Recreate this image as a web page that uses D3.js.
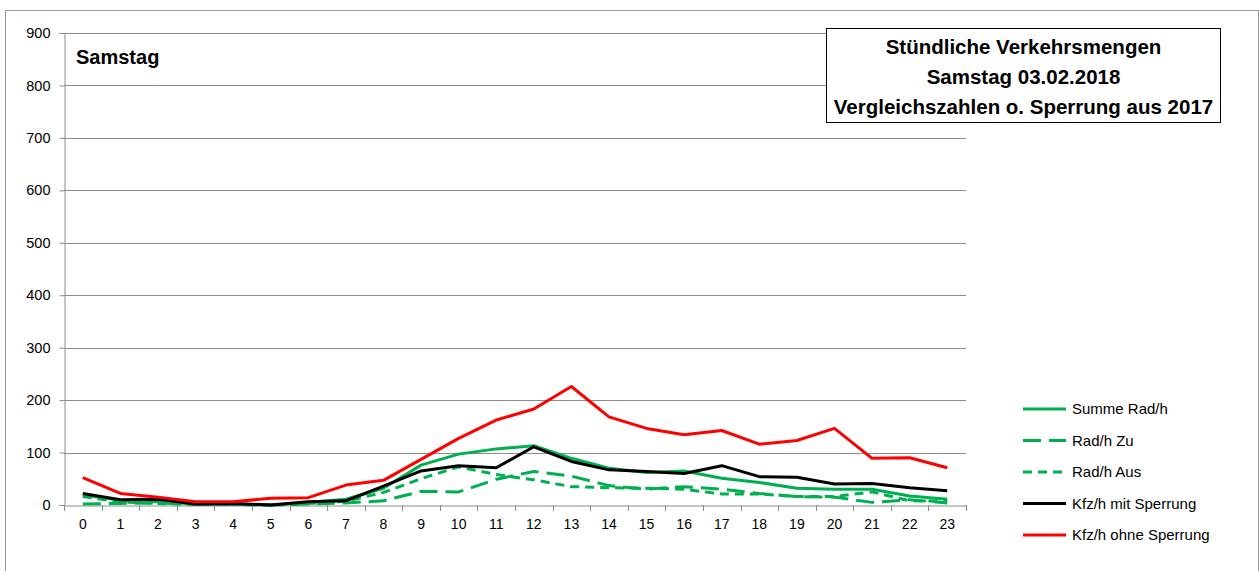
<!DOCTYPE html>
<html><head><meta charset="utf-8">
<script src="https://cdn.jsdelivr.net/npm/d3@7"></script>
<style>html,body{margin:0;padding:0;background:#fff;}svg{display:block;}</style>
</head><body>
<svg id="chart" width="1260" height="571"></svg>
<script>
const hours = ["0","1","2","3","4","5","6","7","8","9","10","11","12","13","14","15","16","17","18","19","20","21","22","23"];
const summeRad = [19,9,6,2,2,0,5,11,32,76,97,107,113,89,70,62,65,51,43,32,30,30,17,11];
const radZu    = [2,3,4,1,1,0,2,4,8,26,25,49,64,55,37,30,35,30,22,16,15,5,10,4];
const radAus   = [16,6,3,1,1,0,3,7,24,50,73,58,48,35,33,32,30,21,21,16,16,25,8,7];
const kfzMit   = [22,10,11,2,3,0,6,8,36,65,75,71,111,83,67,64,60,75,54,53,40,41,33,27];
const kfzOhne  = [52,22,15,6,6,13,14,38,47,87,127,162,183,226,168,146,134,142,116,123,146,89,90,71];
const yTicks = [0,100,200,300,400,500,600,700,800,900];
const seriesNames = ["Summe Rad/h","Rad/h Zu","Rad/h Aus","Kfz/h mit Sperrung","Kfz/h ohne Sperrung"];
const titleLines = ["Stündliche Verkehrsmengen","Samstag 03.02.2018","Vergleichszahlen o. Sperrung aus 2017"];
const dayLabel = "Samstag";

const series = [
  {name: seriesNames[0], values: summeRad, color: "#00b050", dash: null},
  {name: seriesNames[1], values: radZu, color: "#00b050", dash: "18,8"},
  {name: seriesNames[2], values: radAus, color: "#00b050", dash: "9,6"},
  {name: seriesNames[3], values: kfzMit, color: "#000000", dash: null},
  {name: seriesNames[4], values: kfzOhne, color: "#ff0000", dash: null}
];

const svg = d3.select("#chart");
const font = "'Liberation Sans', Arial, sans-serif";
const L = 64, R = 966, T = 33, B = 505;

// outer chart border
svg.append("rect").attr("x",5.5).attr("y",10.5).attr("width",1253).attr("height",570)
  .attr("fill","none").attr("stroke","#9a9a9a").attr("stroke-width",1);

const x = d3.scaleBand().domain(hours).range([L, R]);
const y = d3.scaleLinear().domain([0, 900]).range([B, T]);

// gridlines
svg.append("g").selectAll("line").data(yTicks.filter(d=>d>0)).join("line")
  .attr("x1",L).attr("x2",R).attr("y1",d=>Math.round(y(d))+0.5).attr("y2",d=>Math.round(y(d))+0.5)
  .attr("stroke","#8c8c8c").attr("stroke-width",1);

// y axis
const yAxis = svg.append("g").attr("transform",`translate(${L+0.5},0)`)
  .call(d3.axisLeft(y).tickValues(yTicks).tickSize(5).tickPadding(9).tickFormat(d3.format("d")));
yAxis.select(".domain").attr("stroke","#8c8c8c");
yAxis.selectAll(".tick line").attr("stroke","#8c8c8c");
yAxis.selectAll("text").attr("font-family",font).attr("font-size",14.5).attr("fill","#000");

// x axis
const xAxis = svg.append("g").attr("transform",`translate(0,${B+0.5})`)
  .call(d3.axisBottom(x).tickSize(0).tickPadding(14));
xAxis.select(".domain").attr("stroke","#8c8c8c");
xAxis.selectAll("text").attr("font-family",font).attr("font-size",14).attr("fill","#000");
// tick marks at category boundaries
const bounds = hours.map(h => x(h)).concat([x(hours[hours.length-1]) + x.bandwidth()]);
svg.append("g").selectAll("line").data(bounds).join("line")
  .attr("x1",d=>Math.round(d)+0.5).attr("x2",d=>Math.round(d)+0.5)
  .attr("y1",B).attr("y2",B+6).attr("stroke","#8c8c8c");

// lines
const lineGen = d3.line().x((d,i)=>x(hours[i]) + x.bandwidth()/2).y(d=>y(d));
svg.append("g").selectAll("path").data(series).join("path")
  .attr("d", d=>lineGen(d.values))
  .attr("fill","none").attr("stroke",d=>d.color).attr("stroke-width",3)
  .attr("stroke-dasharray",d=>d.dash).attr("stroke-linejoin","round");

// day label
svg.append("text").attr("x",76).attr("y",64).attr("font-family",font).attr("font-weight","bold")
  .attr("font-size",20).text(dayLabel);

// title box
svg.append("rect").attr("x",826.5).attr("y",28.5).attr("width",394).attr("height",94)
  .attr("fill","#fff").attr("stroke","#000").attr("stroke-width",1);
const tt = svg.append("g");
titleLines.forEach((t,i)=>{
  tt.append("text").attr("x",1023.5).attr("y",54+i*30).attr("text-anchor","middle")
    .attr("font-family",font).attr("font-weight","bold").attr("font-size",20.5).text(t);
});

// legend
const lg = svg.append("g");
series.forEach((s,i)=>{
  const ly = 409 + i*31.5;
  lg.append("line").attr("x1",1023).attr("x2",1066).attr("y1",ly).attr("y2",ly)
    .attr("stroke",s.color).attr("stroke-width",3).attr("stroke-dasharray",s.dash);
  lg.append("text").attr("x",1072).attr("y",ly+5).attr("font-family",font).attr("font-size",15)
    .text(s.name);
});
</script>
</body></html>
